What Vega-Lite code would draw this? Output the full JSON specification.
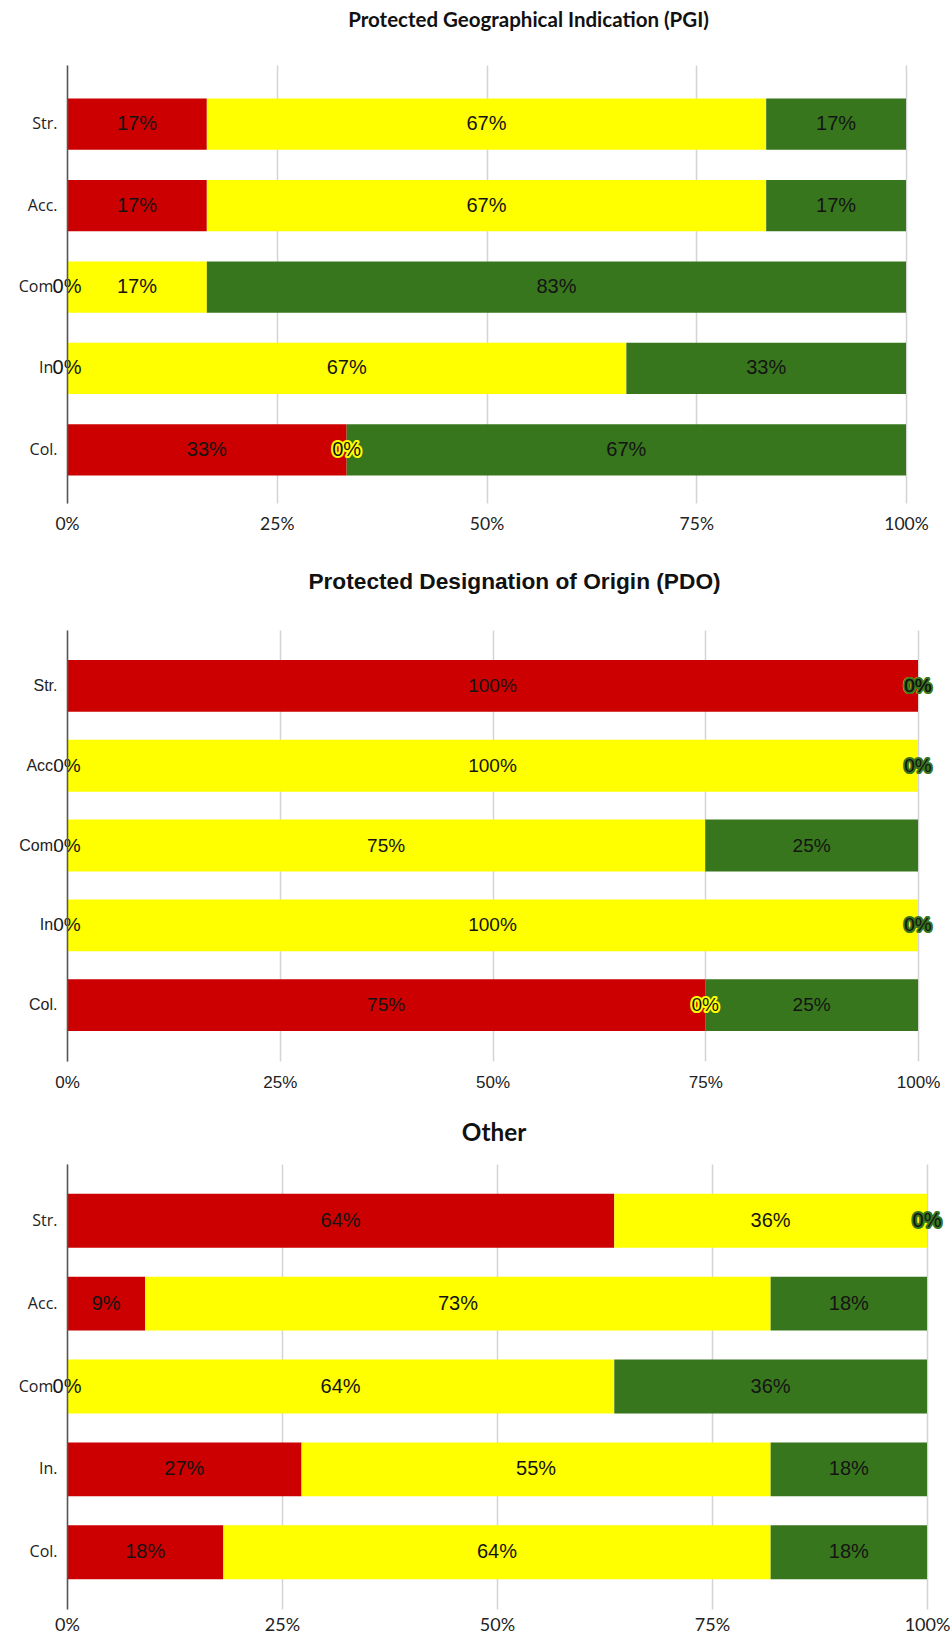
{
  "$schema": "https://vega.github.io/schema/vega-lite/v6.json",
  "padding": {"left": 0, "top": 10, "right": 0, "bottom": 0},
  "spacing": 31,
  "align": "none",
  "background": "white",
  "config": {
    "view": {"stroke": null},
    "title": {"anchor": "middle", "color": "#111"}
  },
  "datasets": {
    "pgi": [
      {"item": "Str.", "level": "Red", "k": 1, "share": 0.16667},
      {"item": "Str.", "level": "Yellow", "k": 2, "share": 0.66667},
      {"item": "Str.", "level": "Green", "k": 3, "share": 0.16667},
      {"item": "Acc.", "level": "Red", "k": 1, "share": 0.16667},
      {"item": "Acc.", "level": "Yellow", "k": 2, "share": 0.66667},
      {"item": "Acc.", "level": "Green", "k": 3, "share": 0.16667},
      {"item": "Com.", "level": "Red", "k": 1, "share": 0},
      {"item": "Com.", "level": "Yellow", "k": 2, "share": 0.16667},
      {"item": "Com.", "level": "Green", "k": 3, "share": 0.83333},
      {"item": "In.", "level": "Red", "k": 1, "share": 0},
      {"item": "In.", "level": "Yellow", "k": 2, "share": 0.66667},
      {"item": "In.", "level": "Green", "k": 3, "share": 0.33333},
      {"item": "Col.", "level": "Red", "k": 1, "share": 0.33333},
      {"item": "Col.", "level": "Yellow", "k": 2, "share": 0},
      {"item": "Col.", "level": "Green", "k": 3, "share": 0.66667}
    ],
    "pdo": [
      {"item": "Str.", "level": "Red", "k": 1, "share": 1},
      {"item": "Str.", "level": "Yellow", "k": 2, "share": 0},
      {"item": "Str.", "level": "Green", "k": 3, "share": 0},
      {"item": "Acc.", "level": "Red", "k": 1, "share": 0},
      {"item": "Acc.", "level": "Yellow", "k": 2, "share": 1},
      {"item": "Acc.", "level": "Green", "k": 3, "share": 0},
      {"item": "Com.", "level": "Red", "k": 1, "share": 0},
      {"item": "Com.", "level": "Yellow", "k": 2, "share": 0.75},
      {"item": "Com.", "level": "Green", "k": 3, "share": 0.25},
      {"item": "In.", "level": "Red", "k": 1, "share": 0},
      {"item": "In.", "level": "Yellow", "k": 2, "share": 1},
      {"item": "In.", "level": "Green", "k": 3, "share": 0},
      {"item": "Col.", "level": "Red", "k": 1, "share": 0.75},
      {"item": "Col.", "level": "Yellow", "k": 2, "share": 0},
      {"item": "Col.", "level": "Green", "k": 3, "share": 0.25}
    ],
    "other": [
      {"item": "Str.", "level": "Red", "k": 1, "share": 0.63636},
      {"item": "Str.", "level": "Yellow", "k": 2, "share": 0.36364},
      {"item": "Str.", "level": "Green", "k": 3, "share": 0},
      {"item": "Acc.", "level": "Red", "k": 1, "share": 0.09091},
      {"item": "Acc.", "level": "Yellow", "k": 2, "share": 0.72727},
      {"item": "Acc.", "level": "Green", "k": 3, "share": 0.18182},
      {"item": "Com.", "level": "Red", "k": 1, "share": 0},
      {"item": "Com.", "level": "Yellow", "k": 2, "share": 0.63636},
      {"item": "Com.", "level": "Green", "k": 3, "share": 0.36364},
      {"item": "In.", "level": "Red", "k": 1, "share": 0.27273},
      {"item": "In.", "level": "Yellow", "k": 2, "share": 0.54545},
      {"item": "In.", "level": "Green", "k": 3, "share": 0.18182},
      {"item": "Col.", "level": "Red", "k": 1, "share": 0.18182},
      {"item": "Col.", "level": "Yellow", "k": 2, "share": 0.63636},
      {"item": "Col.", "level": "Green", "k": 3, "share": 0.18182}
    ]
  },
  "vconcat": [
    {
      "spacing": 38,
      "align": "none",
      "vconcat": [
        {
          "title": {"text": "Protected Geographical Indication (PGI)", "font": "Lato", "fontSize": 20.5, "fontWeight": "bold", "offset": 34, "dx": 42},
          "width": 839,
          "height": 438,
          "data": {"name": "pgi"},
          "transform": [
            {"stack": "share", "groupby": ["item"], "sort": [{"field": "k", "order": "ascending"}], "as": ["x0", "x1"]},
            {"calculate": "(datum.x0 + datum.x1) / 2", "as": "xm"}
          ],
          "encoding": {
            "y": {"field": "item", "type": "nominal", "sort": ["Str.", "Acc.", "Com.", "In.", "Col."],
              "scale": {"paddingInner": 0.37, "paddingOuter": 0.375, "align": 0.55},
              "axis": {"title": null, "ticks": false, "domain": true, "domainColor": "#555", "domainWidth": 1.5, "labelFont": "Open Sans", "labelFontSize": 16, "labelColor": "#222", "labelPadding": 10, "minExtent": 67, "zindex": 1}}
          },
          "layer": [
            {
              "mark": {"type": "bar"},
              "encoding": {
                "x": {"field": "x0", "type": "quantitative", "scale": {"domain": [0, 1], "nice": false},
                  "axis": {"title": null, "values": [0, 0.25, 0.5, 0.75, 1], "format": ".0%", "grid": true, "gridColor": "#d4d4d4", "gridWidth": 1.5, "domain": false, "ticks": false, "labelFlush": false, "labelFont": "Lato", "labelFontSize": 17.5, "labelColor": "#222", "labelPadding": 12}},
                "x2": {"field": "x1"},
                "color": {"field": "level", "type": "nominal", "scale": {"domain": ["Red", "Yellow", "Green"], "range": ["#cc0000", "#ffff00", "#38761d"]}, "legend": null}
              }
            },
            {
              "transform": [{"filter": "datum.share == 0 && datum.level != 'Red'"}],
              "mark": {"type": "text", "font": "Liberation Sans", "fontSize": 20, "strokeWidth": 4, "strokeJoin": "round"},
              "encoding": {
                "x": {"field": "xm", "type": "quantitative", "scale": {"domain": [0, 1], "nice": false},
                  "axis": {"title": null, "values": [0, 0.25, 0.5, 0.75, 1], "format": ".0%", "grid": true, "gridColor": "#d4d4d4", "gridWidth": 1.5, "domain": false, "ticks": false, "labelFlush": false, "labelFont": "Lato", "labelFontSize": 17.5, "labelColor": "#222", "labelPadding": 12}},
                "text": {"field": "share", "type": "quantitative", "format": ".0%"},
                "stroke": {"field": "level", "type": "nominal", "scale": {"domain": ["Red", "Yellow", "Green"], "range": ["#cc0000", "#ffff00", "#38761d"]}, "legend": null}
              }
            },
            {
              "mark": {"type": "text", "font": "Liberation Sans", "fontSize": 20, "color": "#141414"},
              "encoding": {
                "x": {"field": "xm", "type": "quantitative", "scale": {"domain": [0, 1], "nice": false},
                  "axis": {"title": null, "values": [0, 0.25, 0.5, 0.75, 1], "format": ".0%", "grid": true, "gridColor": "#d4d4d4", "gridWidth": 1.5, "domain": false, "ticks": false, "labelFlush": false, "labelFont": "Lato", "labelFontSize": 17.5, "labelColor": "#222", "labelPadding": 12}},
                "text": {"field": "share", "type": "quantitative", "format": ".0%"}
              }
            }
          ]
        },
        {
          "title": {"text": "Protected Designation of Origin (PDO)", "font": "Liberation Sans", "fontSize": 22.7, "fontWeight": "bold", "offset": 36, "dx": 22},
          "width": 851,
          "height": 431,
          "data": {"name": "pdo"},
          "transform": [
            {"stack": "share", "groupby": ["item"], "sort": [{"field": "k", "order": "ascending"}], "as": ["x0", "x1"]},
            {"calculate": "(datum.x0 + datum.x1) / 2", "as": "xm"}
          ],
          "encoding": {
            "y": {"field": "item", "type": "nominal", "sort": ["Str.", "Acc.", "Com.", "In.", "Col."],
              "scale": {"paddingInner": 0.35, "paddingOuter": 0.375},
              "axis": {"title": null, "ticks": false, "domain": true, "domainColor": "#555", "domainWidth": 1.5, "labelFont": "Liberation Sans", "labelFontSize": 16, "labelColor": "#222", "labelPadding": 10, "minExtent": 67, "zindex": 1}}
          },
          "layer": [
            {
              "mark": {"type": "bar"},
              "encoding": {
                "x": {"field": "x0", "type": "quantitative", "scale": {"domain": [0, 1], "nice": false},
                  "axis": {"title": null, "values": [0, 0.25, 0.5, 0.75, 1], "format": ".0%", "grid": true, "gridColor": "#d4d4d4", "gridWidth": 1.5, "domain": false, "ticks": false, "labelFlush": false, "labelFont": "Liberation Sans", "labelFontSize": 17, "labelColor": "#222", "labelPadding": 13}},
                "x2": {"field": "x1"},
                "color": {"field": "level", "type": "nominal", "scale": {"domain": ["Red", "Yellow", "Green"], "range": ["#cc0000", "#ffff00", "#38761d"]}, "legend": null}
              }
            },
            {
              "transform": [{"filter": "datum.share == 0 && datum.level != 'Red'"}],
              "mark": {"type": "text", "font": "Liberation Sans", "fontSize": 19, "strokeWidth": 4, "strokeJoin": "round"},
              "encoding": {
                "x": {"field": "xm", "type": "quantitative", "scale": {"domain": [0, 1], "nice": false},
                  "axis": {"title": null, "values": [0, 0.25, 0.5, 0.75, 1], "format": ".0%", "grid": true, "gridColor": "#d4d4d4", "gridWidth": 1.5, "domain": false, "ticks": false, "labelFlush": false, "labelFont": "Liberation Sans", "labelFontSize": 17, "labelColor": "#222", "labelPadding": 13}},
                "text": {"field": "share", "type": "quantitative", "format": ".0%"},
                "stroke": {"field": "level", "type": "nominal", "scale": {"domain": ["Red", "Yellow", "Green"], "range": ["#cc0000", "#ffff00", "#38761d"]}, "legend": null}
              }
            },
            {
              "mark": {"type": "text", "font": "Liberation Sans", "fontSize": 19, "color": "#141414"},
              "encoding": {
                "x": {"field": "xm", "type": "quantitative", "scale": {"domain": [0, 1], "nice": false},
                  "axis": {"title": null, "values": [0, 0.25, 0.5, 0.75, 1], "format": ".0%", "grid": true, "gridColor": "#d4d4d4", "gridWidth": 1.5, "domain": false, "ticks": false, "labelFlush": false, "labelFont": "Liberation Sans", "labelFontSize": 17, "labelColor": "#222", "labelPadding": 13}},
                "text": {"field": "share", "type": "quantitative", "format": ".0%"}
              }
            }
          ]
        }
      ]
    },
    {
      "title": {"text": "Other", "font": "Lato", "fontSize": 24.3, "fontWeight": "bold", "offset": 18, "dx": -3},
      "width": 860,
      "height": 445,
      "data": {"name": "other"},
      "transform": [
        {"stack": "share", "groupby": ["item"], "sort": [{"field": "k", "order": "ascending"}], "as": ["x0", "x1"]},
        {"calculate": "(datum.x0 + datum.x1) / 2", "as": "xm"}
      ],
      "encoding": {
        "y": {"field": "item", "type": "nominal", "sort": ["Str.", "Acc.", "Com.", "In.", "Col."],
          "scale": {"paddingInner": 0.35, "paddingOuter": 0.36},
          "axis": {"title": null, "ticks": false, "domain": true, "domainColor": "#555", "domainWidth": 1.5, "labelFont": "Open Sans", "labelFontSize": 16, "labelColor": "#222", "labelPadding": 10, "minExtent": 67, "zindex": 1}}
      },
      "layer": [
        {
          "mark": {"type": "bar"},
          "encoding": {
            "x": {"field": "x0", "type": "quantitative", "scale": {"domain": [0, 1], "nice": false},
              "axis": {"title": null, "values": [0, 0.25, 0.5, 0.75, 1], "format": ".0%", "grid": true, "gridColor": "#d4d4d4", "gridWidth": 1.5, "domain": false, "ticks": false, "labelFlush": false, "labelFont": "Lato", "labelFontSize": 18, "labelColor": "#222", "labelPadding": 7}},
            "x2": {"field": "x1"},
            "color": {"field": "level", "type": "nominal", "scale": {"domain": ["Red", "Yellow", "Green"], "range": ["#cc0000", "#ffff00", "#38761d"]}, "legend": null}
          }
        },
        {
          "transform": [{"filter": "datum.share == 0 && datum.level != 'Red'"}],
          "mark": {"type": "text", "font": "Liberation Sans", "fontSize": 20, "strokeWidth": 4, "strokeJoin": "round"},
          "encoding": {
            "x": {"field": "xm", "type": "quantitative", "scale": {"domain": [0, 1], "nice": false},
              "axis": {"title": null, "values": [0, 0.25, 0.5, 0.75, 1], "format": ".0%", "grid": true, "gridColor": "#d4d4d4", "gridWidth": 1.5, "domain": false, "ticks": false, "labelFlush": false, "labelFont": "Lato", "labelFontSize": 18, "labelColor": "#222", "labelPadding": 7}},
            "text": {"field": "share", "type": "quantitative", "format": ".0%"},
            "stroke": {"field": "level", "type": "nominal", "scale": {"domain": ["Red", "Yellow", "Green"], "range": ["#cc0000", "#ffff00", "#2c5e16"]}, "legend": null}
          }
        },
        {
          "mark": {"type": "text", "font": "Liberation Sans", "fontSize": 20, "color": "#141414"},
          "encoding": {
            "x": {"field": "xm", "type": "quantitative", "scale": {"domain": [0, 1], "nice": false},
              "axis": {"title": null, "values": [0, 0.25, 0.5, 0.75, 1], "format": ".0%", "grid": true, "gridColor": "#d4d4d4", "gridWidth": 1.5, "domain": false, "ticks": false, "labelFlush": false, "labelFont": "Lato", "labelFontSize": 18, "labelColor": "#222", "labelPadding": 7}},
            "text": {"field": "share", "type": "quantitative", "format": ".0%"}
          }
        }
      ]
    }
  ]
}
